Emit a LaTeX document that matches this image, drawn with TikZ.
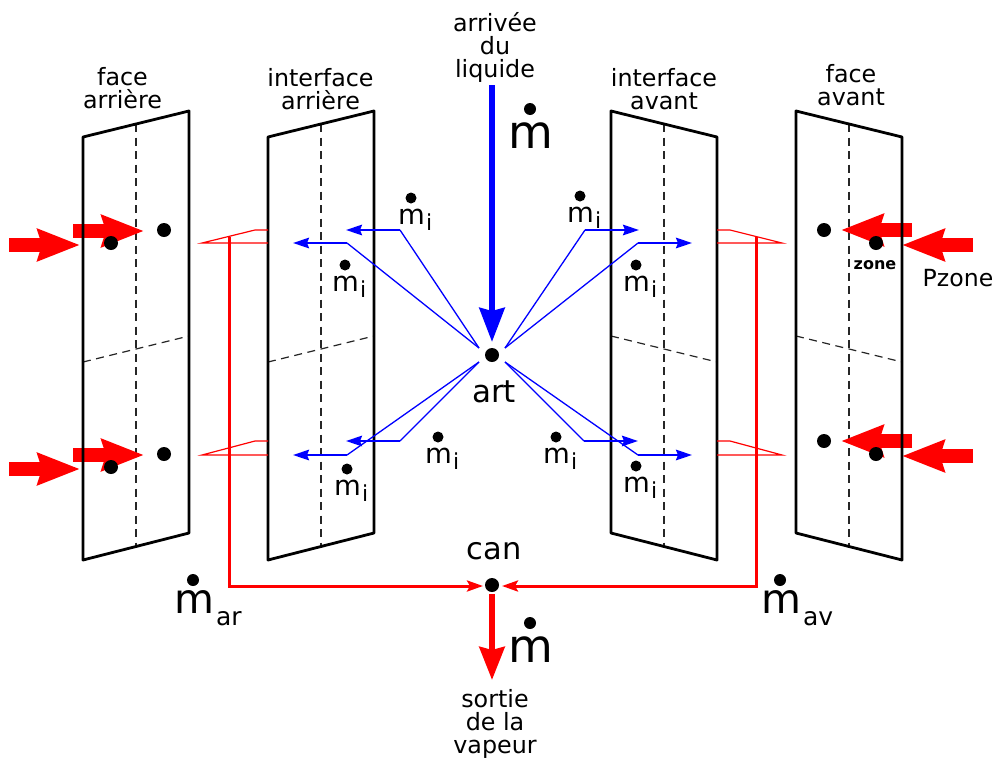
\documentclass[tikz,border=0pt]{standalone}
\usepackage{fontspec}
\setmainfont{DejaVu Sans}
\usetikzlibrary{arrows.meta}
\newcommand{\fs}[1]{\fontsize{#1}{#1}\selectfont}
\tikzset{
  panel/.style={draw=black,line width=2.8pt,line join=round},
  axis/.style={draw=black!85,line width=1.2pt,dash pattern=on 8pt off 5.5pt},
  dotnode/.style={circle,fill=black,inner sep=0pt,minimum size=14pt},
  mdot/.style={circle,fill=black,inner sep=0pt,minimum size=#1},
  lab/.style={inner sep=0pt,align=center,font=\fontsize{23.8}{23}\selectfont},
  txt/.style={inner sep=0pt,anchor=base west},
  bigred/.style={draw=red,line width=14pt,-{Stealth[length=42pt,width=31pt,inset=4pt]}},
  bigblue/.style={draw=blue,line width=6pt,-{Stealth[length=34pt,width=25pt,inset=3pt]}},
  bigout/.style={draw=red,line width=6pt,-{Stealth[length=33pt,width=25pt,inset=3pt]}},
  redline/.style={draw=red,line width=3pt,line join=miter,-{Stealth[length=16pt,width=11pt,inset=3pt]}},
  redthin/.style={draw=red,line width=1.2pt,line join=miter},
  bluethin/.style={draw=blue,line width=1.3pt},
  bluearr/.style={draw=blue,line width=2.2pt,-{Stealth[length=16pt,width=10.5pt,inset=2pt]}},
}
\newcommand{\smallflow}[3]{% x, ydot, name
  \node[mdot=11pt] (#3d) at (#1,#2) {};
  \node[txt] (#3) at ({#1-13},{#2+26.5}) {\fs{27.5}m\hspace{1.2pt}\raisebox{-6pt}{\fs{22}i}};
}
\newcommand{\bigflow}[3]{% x, ydot, name
  \node[mdot=12pt] (#3d) at (#1,#2) {};
  \node[txt] (#3) at ({#1-21.5},{#2+39}) {\fs{46}m};
}
\newcommand{\subflow}[4]{% x, ydot, name, subscript
  \node[mdot=12pt] (#3d) at (#1,#2) {};
  \node[txt] (#3) at ({#1-19},{#2+33}) {\fs{41}m\hspace{2pt}\raisebox{-12pt}{\fs{25}#4}};
}
\begin{document}
\begin{tikzpicture}[x=1pt,y=-1pt]
\useasboundingbox (0,0) rectangle (995,758);
% panel axes
\draw[axis] (136,124) -- (136,547);
\draw[axis] (83,362) -- (189,336);
\draw[axis] (321,124) -- (321,547);
\draw[axis] (268,362) -- (374,336);
\draw[axis] (664,124) -- (664,547);
\draw[axis] (611,336) -- (717,362);
\draw[axis] (849,124) -- (849,547);
\draw[axis] (796,336) -- (902,362);
% big red arrows
\coordinate (a1s) at (9,245);   \coordinate (a1e) at (80,245);
\coordinate (a2s) at (73,231);  \coordinate (a2e) at (144,231);
\coordinate (a3s) at (9,469);   \coordinate (a3e) at (80,469);
\coordinate (a4s) at (73,455);  \coordinate (a4e) at (144,455);
\coordinate (a5s) at (973,245); \coordinate (a5e) at (902,245);
\coordinate (a6s) at (912,230); \coordinate (a6e) at (841,230);
\coordinate (a7s) at (973,456); \coordinate (a7e) at (902,456);
\coordinate (a8s) at (912,441); \coordinate (a8e) at (841,441);
\foreach \i in {1,...,8} \draw[bigred] (a\i s) -- (a\i e);
% panels
\draw[panel] (83,137) -- (189,111) -- (189,533) -- (83,560) -- cycle;
\draw[panel] (268,137) -- (374,111) -- (374,533) -- (268,560) -- cycle;
\draw[panel] (611,111) -- (717,137) -- (717,560) -- (611,533) -- cycle;
\draw[panel] (796,111) -- (902,137) -- (902,560) -- (796,533) -- cycle;
% key nodes
\node[dotnode] (art) at (492,355) {};
\node[dotnode] (can) at (492,585) {};
% dots
\node[dotnode] (d1) at (111,243) {};
\node[dotnode] (d2) at (164,230) {};
\node[dotnode] (d3) at (111,467) {};
\node[dotnode] (d4) at (164,454) {};
\node[dotnode] (d5) at (824,230) {};
\node[dotnode] (d6) at (876,243) {};
\node[dotnode] (d7) at (824,441) {};
\node[dotnode] (d8) at (876,454) {};
% red collectors
\draw[redthin] (268,243) -- (202,243) -- (255,230) -- (268,230);
\draw[redthin] (268,455) -- (202,455) -- (255,441) -- (268,441);
\draw[redthin] (717,243) -- (782,243) -- (730,230) -- (717,230);
\draw[redthin] (717,455) -- (782,455) -- (730,441) -- (717,441);
\coordinate (rl) at (229,237);
\coordinate (rr) at (756.5,237);
\coordinate (canl) at (483,586);
\coordinate (canr) at (502,586);
\draw[redline] (rl) |- (canl);
\draw[redline] (rr) |- (canr);
\coordinate (outs) at (492,594);
\coordinate (oute) at (492,680);
\draw[bigout] (outs) -- (oute);
% blue
\coordinate (ins) at (492,85);
\coordinate (ine) at (492,342);
\draw[bigblue] (ins) -- (ine);
\coordinate (ul) at (479,348); \coordinate (ur) at (505,348);
\coordinate (ll) at (479,362); \coordinate (lr) at (505,362);
\draw[bluethin] (ul) -- (400,230);  \draw[bluearr] (400,230) -- (346,230);
\draw[bluethin] (ul) -- (347,243);  \draw[bluearr] (347,243) -- (293,243);
\draw[bluethin] (ur) -- (585,230);  \draw[bluearr] (585,230) -- (639,230);
\draw[bluethin] (ur) -- (638,243);  \draw[bluearr] (638,243) -- (692,243);
\draw[bluethin] (ll) -- (400,441);  \draw[bluearr] (400,441) -- (346,441);
\draw[bluethin] (ll) -- (347,455);  \draw[bluearr] (347,455) -- (293,455);
\draw[bluethin] (lr) -- (584,441);  \draw[bluearr] (584,441) -- (638,441);
\draw[bluethin] (lr) -- (638,455);  \draw[bluearr] (638,455) -- (692,455);
% text
\node[lab] (t1) at (122.5,88) {face\\arrière};
\node[lab] (t2) at (320.5,89) {interface\\arrière};
\node[lab] (t3) at (664,89) {interface\\avant};
\node[lab] (t4) at (851,85) {face\\avant};
\node[lab] (t5) at (495,47) {arrivée\\du\\liquide};
\node[lab] (t6) at (495,724) {sortie\\de la\\vapeur};
\node[inner sep=0pt,font=\fs{31}] (t7) at (494,392) {art};
\node[inner sep=0pt,font=\fs{30.5}] (t8) at (494,551) {can};
\node[inner sep=0pt,font=\bfseries\fs{16}] (t9) at (875,265) {zone};
\node[inner sep=0pt,font=\fs{23.6}] (t10) at (958,278) {Pzone};
% mass flows
\bigflow{530}{109}{M1}
\bigflow{530}{623}{M2}
\subflow{193}{580}{Mar}{ar}
\subflow{780}{580}{Mav}{av}
\smallflow{411}{198}{m1}
\smallflow{345}{265}{m2}
\smallflow{580}{196}{m3}
\smallflow{636}{265}{m4}
\smallflow{438}{437}{m5}
\smallflow{556}{437}{m6}
\smallflow{347}{469}{m7}
\smallflow{636}{466}{m8}
\end{tikzpicture}
\end{document}
